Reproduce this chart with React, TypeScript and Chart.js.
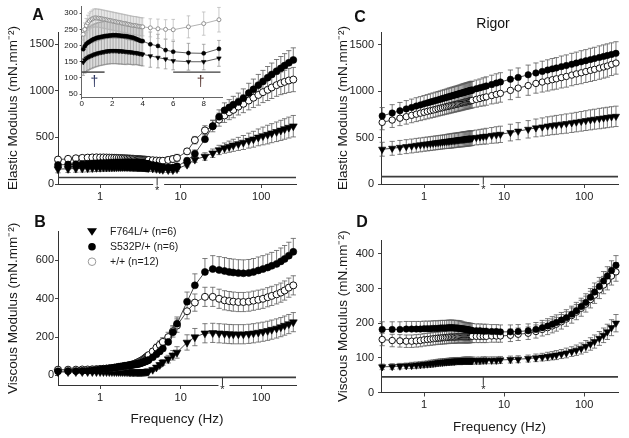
import React, { useEffect, useRef } from 'react';
import { Chart, registerables } from 'chart.js';

Chart.register(...registerables);

const FONT = '"Liberation Sans", Arial, Helvetica, sans-serif';
Chart.defaults.font.family = FONT;
Chart.defaults.color = '#1a1a1a';

// ---------------- data ----------------
const freqHz = [
  0.1, 0.2, 0.3, 0.4, 0.5, 0.6, 0.7, 0.8, 0.9,
  1.0, 1.1, 1.2, 1.3, 1.4, 1.5, 1.6, 1.7, 1.8, 1.9,
  2.0, 2.1, 2.2, 2.3, 2.4, 2.5, 2.6, 2.7, 2.8, 2.9,
  3.0, 3.1, 3.2, 3.3, 3.4, 3.5, 3.6, 3.7, 3.8, 3.9, 4.0,
  4.5, 5, 5.5, 6, 7, 8, 9,
  12, 15, 20, 25, 30, 35, 40, 45, 52, 60, 70, 80, 92, 105, 120, 135, 155, 175, 195, 220, 250,
];

const seriesLabels = ['F764L/+ (n=6)', 'S532P/+ (n=6)', '+/+ (n=12)'];
const seriesStyles = ['triangle', 'filled', 'open'];
const errorDirections = ['both', 'up', 'both'];

// Panel A: elastic modulus (active)
const activeElasticF764L = [
  148, 155, 160, 163, 166, 168, 170, 172, 174,
  175, 177, 178, 179, 180, 181, 182, 183, 183, 184,
  184, 184, 184, 184, 183, 183, 183, 182, 182, 181,
  181, 180, 180, 179, 178, 178, 177, 176, 175, 174, 173,
  168, 163, 158, 153, 150, 150, 161,
  208, 262, 295, 330, 365, 385, 400, 415, 430, 445, 465, 480, 500, 515, 530, 545, 560, 575, 590, 605, 620,
];
const activeElasticF764LErr = [
  40, 40, 40, 40, 40, 40, 40, 40, 40,
  40, 40, 40, 40, 40, 40, 40, 40, 40, 40,
  40, 40, 40, 40, 40, 40, 40, 40, 40, 40,
  38, 38, 38, 38, 38, 36, 36, 36, 36, 36, 36,
  35, 32, 30, 28, 26, 25, 25,
  25, 30, 40, 45, 50, 55, 60, 65, 70, 75, 80, 85, 90, 95, 100, 102, 105, 108, 110, 112, 115,
];
const activeElasticS532P = [
  189, 198, 205, 209, 212, 215, 218, 220, 222,
  224, 225, 226, 227, 228, 229, 230, 230, 231, 231,
  232, 232, 232, 232, 231, 231, 230, 230, 229, 229,
  228, 227, 226, 225, 224, 222, 220, 218, 216, 214, 214,
  204, 199, 186, 181, 177, 176, 190,
  250, 325, 480, 620, 720, 790, 820, 850, 880, 920, 975, 1015, 1060, 1100, 1140, 1175, 1210, 1240, 1270, 1300, 1330,
];
const activeElasticS532PErr = [
  50, 50, 48, 48, 46, 46, 46, 46, 46,
  46, 46, 46, 46, 46, 46, 46, 46, 46, 46,
  45, 45, 45, 45, 45, 44, 44, 44, 44, 44,
  42, 42, 42, 42, 40, 40, 40, 40, 40, 40, 40,
  38, 36, 34, 32, 30, 28, 26,
  30, 40, 55, 65, 75, 80, 85, 90, 95, 100, 105, 110, 115, 118, 120, 122, 125, 127, 128, 130, 130,
];
const activeElasticWT = [
  235, 250, 262, 270, 276, 280, 283, 285, 286,
  285, 285, 284, 283, 282, 281, 280, 279, 278, 277,
  276, 275, 274, 273, 272, 271, 270, 269, 268, 267,
  266, 265, 264, 263, 262, 262, 261, 260, 259, 258, 258,
  255, 252, 250, 249, 258, 268, 280,
  350, 470, 575, 620, 690, 735, 770, 795, 830, 860, 895, 925, 955, 985, 1010, 1035, 1060, 1080, 1095, 1110, 1120,
];
const activeElasticWTErr = [
  18, 20, 22, 24, 25, 26, 27, 28, 28,
  28, 28, 28, 28, 28, 28, 28, 28, 28, 28,
  28, 28, 28, 28, 28, 28, 28, 28, 28, 28,
  28, 28, 28, 28, 28, 28, 28, 28, 28, 28, 28,
  28, 30, 30, 32, 34, 36, 38,
  30, 40, 50, 60, 70, 75, 80, 85, 90, 95, 100, 105, 110, 112, 115, 118, 120, 122, 125, 128, 130,
];

// Panel B: viscous modulus (active)
const activeViscousF764L = [
  18, 18, 18, 18, 18, 18, 18, 18, 18,
  18, 18, 18, 18, 18, 18, 18, 18, 18, 18,
  18, 18, 18, 17, 17, 17, 17, 17, 17, 17,
  17, 17, 17, 17, 18, 18, 19, 19, 20, 21, 22,
  30, 42, 55, 68, 85, 105, 120,
  172, 200, 220, 222, 220, 218, 216, 215, 215, 215, 217, 220, 224, 228, 233, 239, 245, 252, 260, 268, 278,
];
const activeViscousF764LErr = [
  6, 6, 6, 6, 6, 6, 6, 6, 6,
  6, 6, 6, 6, 6, 6, 6, 6, 6, 6,
  6, 6, 6, 6, 6, 6, 6, 6, 6, 6,
  6, 6, 6, 6, 6, 6, 6, 6, 6, 6, 6,
  8, 10, 12, 15, 20, 25, 30,
  40, 45, 50, 50, 50, 50, 50, 50, 50, 50, 50, 50, 50, 50, 50, 50, 50, 50, 50, 50, 50,
];
const activeViscousS532P = [
  22, 22, 22, 23, 23, 24, 25, 27, 29,
  31, 33, 35, 37, 39, 41, 43, 45, 47, 48,
  50, 51, 52, 53, 54, 55, 56, 57, 58, 59,
  60, 62, 64, 66, 68, 70, 72, 74, 76, 78, 80,
  95, 110, 125, 140, 175, 225, 270,
  385, 470, 540, 555, 550, 545, 540, 537, 534, 533, 535, 540, 548, 555, 563, 572, 582, 595, 608, 625, 645,
];
const activeViscousS532PErr = [
  8, 8, 8, 8, 8, 8, 8, 8, 8,
  8, 8, 8, 8, 8, 8, 8, 8, 8, 8,
  8, 8, 8, 8, 8, 8, 8, 8, 8, 8,
  8, 8, 8, 8, 8, 8, 8, 8, 8, 8, 8,
  10, 12, 15, 18, 22, 28, 35,
  50, 60, 70, 70, 70, 70, 70, 70, 70, 70, 70, 70, 70, 70, 70, 70, 70, 70, 70, 70, 70,
];
const activeViscousWT = [
  30, 30, 30, 30, 30, 31, 31, 32, 33,
  34, 35, 36, 37, 38, 40, 41, 42, 44, 45,
  47, 49, 51, 53, 55, 57, 59, 62, 64, 67,
  70, 73, 76, 79, 82, 86, 90, 94, 98, 102, 106,
  125, 145, 160, 175, 200, 230, 260,
  335, 380, 410, 410, 400, 392, 388, 385, 383, 383, 385, 390, 395, 400, 408, 415, 423, 432, 443, 458, 470,
];
const activeViscousWTErr = [
  8, 8, 8, 8, 8, 8, 8, 8, 8,
  8, 8, 8, 8, 8, 8, 8, 8, 8, 8,
  9, 9, 9, 9, 9, 9, 9, 9, 9, 9,
  10, 10, 10, 10, 10, 10, 10, 10, 10, 10, 10,
  15, 18, 20, 22, 25, 30, 35,
  40, 45, 50, 50, 50, 50, 50, 50, 50, 50, 50, 50, 50, 50, 50, 50, 50, 50, 50, 50, 50,
];

// Panel C: elastic modulus (rigor)
const rigorElasticF764L = [
  330, 355, 375, 385, 395, 403, 410, 417, 422,
  428, 432, 436, 440, 444, 447, 450, 453, 456, 459,
  461, 463, 466, 468, 470, 472, 474, 476, 478, 479,
  481, 483, 484, 486, 487, 489, 490, 492, 493, 494, 496,
  502, 507, 512, 516, 524, 530, 536,
  555, 570, 590, 605, 615, 625, 632, 638, 645, 652, 660, 668, 676, 684, 692, 699, 706, 712, 718, 724, 730,
];
const rigorElasticF764LErr = [
  75, 75, 75, 75, 75, 75, 75, 75, 75,
  75, 75, 75, 75, 75, 75, 75, 75, 75, 75,
  78, 78, 78, 78, 78, 78, 78, 78, 78, 78,
  80, 80, 80, 80, 80, 80, 80, 80, 80, 80, 80,
  80, 82, 82, 85, 85, 88, 88,
  90, 92, 94, 96, 98, 100, 100, 102, 102, 104, 104, 105, 106, 107, 108, 108, 110, 110, 110, 110, 110,
];
const rigorElasticS532P = [
  617, 691, 735, 766, 790, 810, 826, 841, 853,
  865, 875, 884, 893, 901, 908, 915, 922, 928, 934,
  940, 945, 950, 955, 959, 964, 968, 972, 976, 980,
  983, 987, 990, 994, 997, 1000, 1003, 1006, 1009, 1012, 1014,
  1027, 1038, 1048, 1058, 1074, 1089, 1101,
  1130, 1150, 1178, 1198, 1215, 1230, 1242, 1252, 1266, 1278, 1292, 1305, 1318, 1330, 1342, 1353, 1366, 1377, 1387, 1398, 1410,
];
const rigorElasticS532PErr = [
  90, 90, 90, 90, 90, 90, 90, 90, 90,
  90, 90, 90, 90, 90, 90, 90, 90, 90, 90,
  92, 92, 92, 92, 92, 92, 92, 92, 92, 92,
  95, 95, 95, 95, 95, 95, 95, 95, 95, 95, 95,
  95, 95, 98, 98, 100, 100, 100,
  100, 102, 105, 108, 110, 110, 112, 112, 115, 115, 118, 118, 120, 120, 122, 122, 124, 124, 125, 125, 125,
];
const rigorElasticWT = [
  600, 640, 665, 690, 710, 726, 741, 753, 764,
  774, 783, 791, 798, 805, 812, 818, 823, 829, 834,
  838, 843, 847, 851, 855, 859, 862, 866, 869, 872,
  876, 879, 882, 884, 887, 890, 892, 895, 897, 900, 902,
  913, 923, 932, 940, 954, 967, 978,
  1010, 1035, 1062, 1085, 1100, 1113, 1125, 1135, 1148, 1160, 1175, 1188, 1200, 1213, 1226, 1237, 1250, 1262, 1273, 1290, 1305,
];
const rigorElasticWTErr = [
  80, 80, 80, 80, 80, 80, 80, 80, 80,
  80, 80, 80, 80, 80, 80, 80, 80, 80, 80,
  80, 80, 80, 80, 80, 80, 80, 80, 80, 80,
  80, 80, 80, 80, 80, 80, 80, 80, 80, 80, 80,
  85, 85, 90, 90, 90, 95, 95,
  100, 100, 105, 105, 108, 110, 110, 112, 112, 115, 115, 115, 118, 118, 120, 120, 120, 120, 120, 120, 120,
];

// Panel D: viscous modulus (rigor)
const rigorViscousF764L = [
  72, 73, 74, 75, 76, 77, 78, 79, 80,
  81, 82, 83, 84, 85, 86, 87, 87, 88, 88,
  89, 89, 90, 90, 90, 91, 91, 91, 91, 91,
  91, 92, 92, 92, 92, 92, 92, 92, 92, 92, 92,
  92, 92, 93, 93, 93, 93, 94,
  95, 96, 98, 100, 102, 104, 106, 108, 111, 114, 118, 122, 127, 133, 140, 147, 156, 165, 175, 187, 200,
];
const rigorViscousF764LErr = [
  8, 8, 8, 8, 8, 8, 9, 9, 9,
  9, 9, 10, 10, 10, 10, 10, 10, 10, 10,
  10, 10, 10, 10, 10, 10, 10, 10, 10, 10,
  10, 10, 10, 10, 10, 10, 10, 10, 10, 10, 10,
  10, 10, 10, 10, 10, 10, 10,
  10, 10, 10, 11, 11, 12, 12, 13, 13, 14, 14, 15, 16, 17, 18, 19, 20, 21, 22, 23, 25,
];
const rigorViscousS532P = [
  180, 181, 182, 182, 182, 183, 183, 183, 183,
  184, 184, 184, 185, 185, 185, 186, 186, 186, 186,
  187, 187, 187, 187, 186, 186, 186, 185, 185, 184,
  184, 183, 183, 182, 182, 181, 181, 180, 180, 179, 179,
  178, 178, 177, 177, 176, 176, 175,
  175, 176, 178, 182, 187, 192, 197, 202, 209, 216, 226, 236, 248, 260, 275, 290, 306, 322, 336, 352, 367,
];
const rigorViscousS532PErr = [
  22, 22, 22, 22, 22, 22, 22, 22, 22,
  22, 22, 22, 22, 22, 22, 22, 22, 22, 22,
  22, 22, 22, 22, 22, 22, 22, 22, 22, 22,
  20, 20, 20, 20, 20, 20, 20, 20, 20, 20, 20,
  20, 20, 20, 20, 20, 20, 20,
  20, 20, 20, 20, 21, 21, 22, 22, 22, 23, 23, 24, 24, 25, 25, 26, 26, 27, 27, 28, 28,
];
const rigorViscousWT = [
  158, 155, 153, 150, 149, 148, 148, 149, 150,
  152, 153, 154, 155, 156, 157, 157, 158, 158, 159,
  159, 160, 160, 160, 160, 160, 161, 161, 161, 161,
  161, 161, 161, 161, 161, 161, 161, 161, 162, 162, 162,
  162, 162, 162, 162, 163, 163, 163,
  165, 168, 171, 176, 182, 187, 192, 197, 204, 212, 222, 232, 243, 255, 268, 281, 296, 310, 322, 336, 348,
];
const rigorViscousWTErr = [
  18, 18, 18, 18, 18, 18, 18, 18, 18,
  18, 18, 18, 18, 18, 18, 18, 18, 18, 18,
  18, 18, 18, 18, 18, 18, 18, 18, 18, 18,
  18, 18, 18, 18, 18, 18, 18, 18, 18, 18, 18,
  18, 18, 18, 18, 18, 18, 18,
  18, 18, 18, 19, 19, 20, 20, 20, 21, 21, 22, 22, 23, 23, 24, 24, 25, 25, 26, 26, 27,
];

// tick labels
const freqTicks = [1, 10, 100];
const insetFreqTicks = [0, 2, 4, 6, 8];
const elasticTicks = [0, 500, 1000, 1500];
const activeViscousTicks = [0, 200, 400, 600];
const rigorViscousTicks = [0, 100, 200, 300, 400];
const insetElasticTicks = [50, 100, 150, 200, 250, 300];

// significance bars: [from Hz, to Hz, level]
const sigBarsA = [[0.3, 270, 70]];
const sigBarsB = [[3.9, 270, -10]];
const sigBarsC = [[0.29, 265, 80]];
const sigBarsD = [[0.29, 265, 45]];
const sigBarsInset = [[0, 1.5, 118], [6, 9.1, 118]];
// asterisk markers: [Hz, level]
const starA = [5.1, 70];
const starB = [33, -10];
const starC = [5.5, 80];
const starD = [5.5, 45];
// daggers in inset: [Hz, level]
const insetDaggers = [[0.83, 88], [7.8, 88]];

// ---------------- plugins ----------------
const errorBarPlugin = {
  id: 'errorBars',
  beforeDatasetsDraw(chart: any) {
    const { ctx } = chart;
    const xs = chart.scales.x;
    const ys = chart.scales.y;
    chart.data.datasets.forEach((ds: any) => {
      if (!ds.errors) return;
      ctx.save();
      ctx.strokeStyle = ds.errColor || '#555';
      ctx.lineWidth = ds.errWidth || 0.8;
      const cap = ds.capHalf || 2.5;
      ds.data.forEach((p: any, i: number) => {
        const e = ds.errors[i];
        if (e == null) return;
        const px = xs.getPixelForValue(p.x);
        const py = ys.getPixelForValue(p.y);
        const up = ys.getPixelForValue(p.y + e);
        const dn = ys.getPixelForValue(p.y - e);
        ctx.beginPath();
        const top = ds.errDir === 'down' ? py : up;
        const bot = ds.errDir === 'up' ? py : dn;
        ctx.moveTo(px, top);
        ctx.lineTo(px, bot);
        if (ds.errDir !== 'down') {
          ctx.moveTo(px - cap, up);
          ctx.lineTo(px + cap, up);
        }
        if (ds.errDir !== 'up') {
          ctx.moveTo(px - cap, dn);
          ctx.lineTo(px + cap, dn);
        }
        ctx.stroke();
      });
      ctx.restore();
    });
  },
};

const starPlugin = {
  id: 'starMark',
  afterDraw(chart: any, _a: any, opts: any) {
    if (!opts || !opts.at) return;
    const { ctx, chartArea } = chart;
    const px = chart.scales.x.getPixelForValue(opts.at[0]);
    const sy = chart.scales.y.getPixelForValue(opts.at[1]);
    const ay = chartArea.bottom;
    ctx.save();
    if (opts.gap) {
      ctx.fillStyle = '#ffffff';
      ctx.fillRect(px - 4, ay - 1.5, 11, 3);
    }
    ctx.strokeStyle = '#333';
    ctx.lineWidth = 1;
    ctx.beginPath();
    ctx.moveTo(px, sy);
    ctx.lineTo(px, sy + 8);
    ctx.stroke();
    ctx.fillStyle = '#222';
    ctx.font = `11px ${FONT}`;
    ctx.textAlign = 'center';
    ctx.textBaseline = 'middle';
    ctx.fillText('*', px, sy + 13);
    ctx.restore();
  },
};

const daggerPlugin = {
  id: 'daggers',
  afterDraw(chart: any, _a: any, opts: any) {
    if (!opts || !opts.items) return;
    const { ctx } = chart;
    ctx.save();
    ctx.font = `14px ${FONT}`;
    ctx.textAlign = 'center';
    ctx.textBaseline = 'middle';
    opts.items.forEach((d: number[], k: number) => {
      ctx.fillStyle = k === 0 ? '#2c3560' : '#5a3a34';
      ctx.fillText('\u2020', chart.scales.x.getPixelForValue(d[0]), chart.scales.y.getPixelForValue(d[1]));
    });
    ctx.restore();
  },
};

const legendPlugin = {
  id: 'panelLegend',
  afterDraw(chart: any, _a: any, opts: any) {
    if (!opts || !opts.display) return;
    const { ctx, chartArea } = chart;
    ctx.save();
    ctx.font = `10.5px ${FONT}`;
    ctx.textBaseline = 'middle';
    ctx.textAlign = 'left';
    seriesLabels.forEach((label, k) => {
      const y = chartArea.top + opts.y0 + opts.dy * k;
      const mx = chartArea.left + opts.markerX;
      const st = seriesStyles[k];
      ctx.beginPath();
      if (st === 'triangle') {
        ctx.moveTo(mx - 5, y - 3.5);
        ctx.lineTo(mx + 5, y - 3.5);
        ctx.lineTo(mx, y + 4);
        ctx.closePath();
        ctx.fillStyle = '#000';
        ctx.fill();
      } else if (st === 'filled') {
        ctx.arc(mx, y, 3.8, 0, Math.PI * 2);
        ctx.fillStyle = '#000';
        ctx.fill();
      } else {
        ctx.arc(mx, y, 3.8, 0, Math.PI * 2);
        ctx.fillStyle = '#fff';
        ctx.fill();
        ctx.strokeStyle = '#9a9a9a';
        ctx.lineWidth = 1;
        ctx.stroke();
      }
      ctx.fillStyle = '#1a1a1a';
      ctx.fillText(label, chartArea.left + opts.textX, y);
    });
    ctx.restore();
  },
};

// ---------------- builders ----------------
function pointStyleFor(style: string, r: number, inset: boolean) {
  if (style === 'triangle')
    return { pointStyle: 'triangle', pointRotation: 180, pointRadius: r * 1.3, pointHoverRadius: r * 1.3, pointBackgroundColor: '#000', pointBorderColor: '#000', pointBorderWidth: 0.6 };
  if (style === 'filled')
    return { pointStyle: 'circle', pointRadius: r, pointHoverRadius: r, pointBackgroundColor: '#000', pointBorderColor: '#000', pointBorderWidth: 0.6 };
  return { pointStyle: 'circle', pointRadius: r, pointHoverRadius: r, pointBackgroundColor: '#fff', pointBorderColor: inset ? '#909090' : '#111', pointBorderWidth: 1 };
}

function buildSeries(valuesList: number[][], errList: number[][], from: number, to: number, r: number, inset: boolean) {
  return valuesList.map((vals, k) => {
    const data: any[] = [];
    const errs: number[] = [];
    for (let i = from; i < to; i++) {
      data.push({ x: freqHz[i], y: vals[i] });
      errs.push(errList[k][i]);
    }
    const style = seriesStyles[k];
    return {
      label: seriesLabels[k],
      data,
      errors: errs,
      errDir: errorDirections[k],
      errColor: inset ? (style === 'open' ? '#b4b4b4' : '#8a8a8a') : '#5c5c5c',
      errWidth: inset ? 0.7 : 0.8,
      capHalf: inset ? 1.8 : 2.6,
      borderColor: inset && style === 'open' ? '#a0a0a0' : '#333',
      borderWidth: inset ? 0.8 : 0.9,
      tension: 0,
      fill: false,
      clip: false,
      order: style === 'triangle' ? 2 : style === 'open' ? 1 : 0,
      ...pointStyleFor(style, r, inset),
    };
  });
}

function sigDatasets(bars: number[][], width: number) {
  return bars.map((b) => ({
    data: [{ x: b[0], y: b[2] }, { x: b[1], y: b[2] }],
    borderColor: '#3c3c3c',
    borderWidth: width,
    pointRadius: 0,
    pointHoverRadius: 0,
    order: 5,
    clip: false,
  }));
}

function axisCommon(tickLen: number, fontSize: number, pad: number) {
  return {
    grid: { display: true, drawOnChartArea: false, drawTicks: true, tickLength: tickLen, color: '#444', lineWidth: 1 },
    border: { display: true, color: '#333', width: 1 },
    ticks: { autoSkip: false, maxRotation: 0, minRotation: 0, padding: pad, font: { size: fontSize }, color: '#1a1a1a', callback: (v: any) => String(v) },
  };
}

function mainConfig(p: any) {
  const datasets = [
    ...sigDatasets(p.sig, 1.6),
    ...buildSeries(p.values, p.errors, 2, freqHz.length, p.radius, false),
  ];
  const xc = axisCommon(4, 11, 2);
  const yc = axisCommon(3, 11, p.yTickPad);
  return {
    type: 'line',
    data: { datasets },
    plugins: [errorBarPlugin, starPlugin, legendPlugin],
    options: {
      responsive: false,
      animation: false,
      events: [],
      layout: { padding: p.padding },
      plugins: {
        legend: { display: false },
        tooltip: { enabled: false },
        starMark: { at: p.star, gap: p.gap },
        panelLegend: { display: !!p.legend, markerX: 34, textX: 52, y0: 0, dy: 15 },
      },
      scales: {
        x: {
          type: 'logarithmic',
          min: p.xMin,
          max: p.xMax,
          afterFit: (s: any) => { s.height = p.xHeight; },
          afterBuildTicks: (s: any) => { s.ticks = freqTicks.map((v) => ({ value: v })); },
          ...xc,
          title: p.xTitle
            ? { display: true, text: 'Frequency (Hz)', font: { size: 13.5 }, color: '#1a1a1a', padding: { top: 0, bottom: p.xTitlePad } }
            : { display: false },
        },
        y: {
          type: 'linear',
          min: p.yMin,
          max: p.yMax,
          afterFit: (s: any) => { s.width = p.yWidth; },
          afterBuildTicks: (s: any) => { s.ticks = p.yTicks.map((v: number) => ({ value: v })); },
          ...yc,
          title: { display: true, text: p.yTitle, font: { size: 13.5 }, color: '#1a1a1a', padding: { top: 5, bottom: 0 } },
        },
      },
    },
  };
}

function insetConfig() {
  const datasets = [
    ...sigDatasets(sigBarsInset, 1.4),
    ...buildSeries(
      [activeElasticF764L, activeElasticS532P, activeElasticWT],
      [activeElasticF764LErr, activeElasticS532PErr, activeElasticWTErr],
      0, 47, 2, true,
    ),
  ];
  const xc = axisCommon(2, 8, 0);
  const yc = axisCommon(2, 8, 2);
  return {
    type: 'line',
    data: { datasets },
    plugins: [errorBarPlugin, daggerPlugin],
    options: {
      responsive: false,
      animation: false,
      events: [],
      layout: { padding: { top: 5, right: 8, bottom: 0, left: 0 } },
      plugins: {
        legend: { display: false },
        tooltip: { enabled: false },
        daggers: { items: insetDaggers },
      },
      scales: {
        x: {
          type: 'linear', min: 0, max: 9.2,
          afterFit: (s: any) => { s.height = 10.7; },
          afterBuildTicks: (s: any) => { s.ticks = insetFreqTicks.map((v) => ({ value: v })); },
          ...xc,
          border: { display: true, color: '#666', width: 1 },
        },
        y: {
          type: 'linear', min: 40, max: 320,
          afterFit: (s: any) => { s.width = 31.7; },
          afterBuildTicks: (s: any) => { s.ticks = insetElasticTicks.map((v) => ({ value: v })); },
          ...yc,
          border: { display: true, color: '#666', width: 1 },
        },
      },
    },
  };
}

const ELASTIC_TITLE = 'Elastic Modulus (mN.mm\u207B\u00B2)';
const VISCOUS_TITLE = 'Viscous Modulus (mN.mm\u207B\u00B2)';

const panelA = () => mainConfig({
  values: [activeElasticF764L, activeElasticS532P, activeElasticWT],
  errors: [activeElasticF764LErr, activeElasticS532PErr, activeElasticWTErr],
  sig: sigBarsA, star: starA, gap: true, legend: false,
  padding: { top: 32, right: 19, bottom: 0, left: 0 },
  yWidth: 58, xHeight: 31, yTickPad: 1, radius: 3.5,
  xMin: 0.3, xMax: 270, yMin: 0, yMax: 1630, yTicks: elasticTicks,
  yTitle: ELASTIC_TITLE, xTitle: false,
});
const panelB = () => mainConfig({
  values: [activeViscousF764L, activeViscousS532P, activeViscousWT],
  errors: [activeViscousF764LErr, activeViscousS532PErr, activeViscousWTErr],
  sig: sigBarsB, star: starB, gap: true, legend: true,
  padding: { top: 16.7, right: 19, bottom: 0, left: 0 },
  yWidth: 58, xHeight: 53, yTickPad: 1, radius: 3.5,
  xMin: 0.3, xMax: 270, yMin: -50, yMax: 750, yTicks: activeViscousTicks,
  yTitle: VISCOUS_TITLE, xTitle: true, xTitlePad: 11,
});
const panelC = () => mainConfig({
  values: [rigorElasticF764L, rigorElasticS532P, rigorElasticWT],
  errors: [rigorElasticF764LErr, rigorElasticS532PErr, rigorElasticWTErr],
  sig: sigBarsC, star: starC, gap: true, legend: false,
  padding: { top: 32, right: 11, bottom: 0, left: 0 },
  yWidth: 51, xHeight: 31, yTickPad: 4, radius: 3.2,
  xMin: 0.29, xMax: 265, yMin: 0, yMax: 1640, yTicks: elasticTicks,
  yTitle: ELASTIC_TITLE, xTitle: false,
});
const panelD = () => mainConfig({
  values: [rigorViscousF764L, rigorViscousS532P, rigorViscousWT],
  errors: [rigorViscousF764LErr, rigorViscousS532PErr, rigorViscousWTErr],
  sig: sigBarsD, star: starD, gap: false, legend: false,
  padding: { top: 25, right: 11, bottom: 0, left: 0 },
  yWidth: 51, xHeight: 45.5, yTickPad: 4, radius: 3.2,
  xMin: 0.29, xMax: 265, yMin: 0, yMax: 440, yTicks: rigorViscousTicks,
  yTitle: VISCOUS_TITLE, xTitle: true, xTitlePad: 3,
});

// ---------------- components ----------------
function ChartCanvas({ left, top, width, height, build }: any) {
  const ref = useRef<HTMLCanvasElement | null>(null);
  useEffect(() => {
    if (!ref.current) return;
    const chart = new Chart(ref.current, build());
    return () => chart.destroy();
  }, []);
  return (
    <canvas
      ref={ref}
      width={width}
      height={height}
      style={{ position: 'absolute', left, top, width, height }}
    />
  );
}

function Label({ x, y, text, size, bold }: any) {
  return (
    <div
      style={{
        position: 'absolute', left: x, top: y, transform: 'translate(-50%, -50%)',
        fontFamily: FONT, fontSize: size, fontWeight: bold ? 'bold' : 'normal',
        color: '#111', whiteSpace: 'nowrap', lineHeight: 1,
      }}
    >
      {text}
    </div>
  );
}

export default function App() {
  return (
    <div style={{ position: 'fixed', left: 0, top: 0, width: 629, height: 438, background: '#fff', overflow: 'hidden' }}>
      <ChartCanvas left={0} top={0} width={315} height={215} build={panelA} />
      <ChartCanvas left={0} top={215} width={315} height={223} build={panelB} />
      <ChartCanvas left={330} top={0} width={299} height={215} build={panelC} />
      <ChartCanvas left={330} top={215} width={299} height={223} build={panelD} />
      <ChartCanvas left={50} top={0} width={180} height={108} build={insetConfig} />
      <Label x={38} y={15} text="A" size={16} bold />
      <Label x={40} y={222} text="B" size={16} bold />
      <Label x={360} y={17} text="C" size={16} bold />
      <Label x={362} y={222} text="D" size={16} bold />
      <Label x={493} y={23} text="Rigor" size={14} />
    </div>
  );
}
